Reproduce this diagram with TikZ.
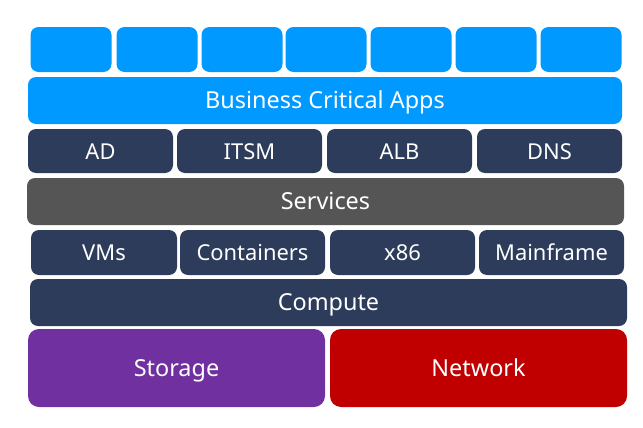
\documentclass[tikz,border=0pt]{standalone}
\usepackage{fontspec}
\setmainfont{Noto Sans}
\usepackage{tikz}
\definecolor{appblue}{HTML}{0099FF}
\definecolor{tiernavy}{HTML}{2D3C5A}
\definecolor{svcgrey}{HTML}{555555}
\definecolor{storpurple}{HTML}{7030A0}
\definecolor{netred}{HTML}{C00000}

\begin{document}
\begin{tikzpicture}[every node/.style={rectangle, rounded corners=8bp, inner sep=0bp, text=white, text height=16bp, text depth=0pt, font=\fontsize{22}{26}\selectfont},
  app/.style={fill=appblue, minimum width=81bp, minimum height=45bp},
  tier/.style={fill=tiernavy, minimum width=145bp, minimum height=45bp},
  bar/.style={minimum width=596bp, minimum height=47bp, font=\fontsize{23.5}{28}\selectfont},
  base/.style={rounded corners=11bp, minimum width=297bp, minimum height=78bp, font=\fontsize{23.5}{28}\selectfont}]
  \useasboundingbox (0bp, 0bp) rectangle (643bp, -428bp);
  % Apps
  \node (app1) at (71bp, -49.5bp) [app] {};
  \node (app2) at (157bp, -49.5bp) [app] {};
  \node (app3) at (242bp, -49.5bp) [app] {};
  \node (app4) at (326bp, -49.5bp) [app] {};
  \node (app5) at (411bp, -49.5bp) [app] {};
  \node (app6) at (496bp, -49.5bp) [app] {};
  \node (app7) at (581bp, -49.5bp) [app] {};
  \node (apps) at (325bp, -100.5bp) [bar, fill=appblue, minimum width=594bp] {Business Critical Apps};

  % Services
  \node (ad) at (100.5bp, -151bp) [tier, minimum height=44bp] {AD};
  \node (itsm) at (249.5bp, -151bp) [tier, minimum height=44bp] {ITSM};
  \node (alb) at (399.5bp, -151bp) [tier, minimum height=44bp] {ALB};
  \node (dns) at (549.5bp, -151bp) [tier, minimum height=44bp] {DNS};
  \node (services) at (325.5bp, -201.5bp) [bar, fill=svcgrey, minimum width=597bp] {Services};

  % Compute
  \node (vms) at (104bp, -252.5bp) [tier, minimum width=146bp] {VMs};
  \node (containers) at (252.5bp, -252.5bp) [tier] {Containers};
  \node (x86) at (402.5bp, -252.5bp) [tier] {x86};
  \node (mainframe) at (551.5bp, -252.5bp) [tier] {Mainframe};
  \node (compute) at (328.5bp, -302.5bp) [bar, fill=tiernavy, minimum width=597bp] {Compute};

  % Storage and network
  \node (storage) at (176.5bp, -368bp) [base, fill=storpurple] {Storage};
  \node (network) at (478.5bp, -368bp) [base, fill=netred] {Network};
\end{tikzpicture}
\end{document}
